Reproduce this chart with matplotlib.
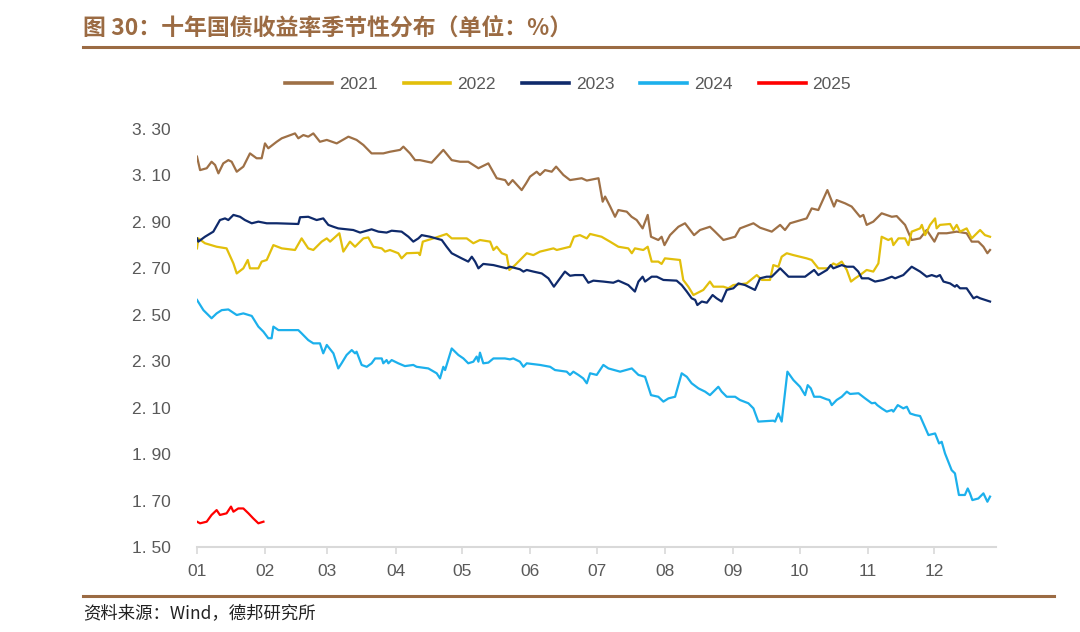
import matplotlib
matplotlib.use('Agg')
import matplotlib.pyplot as plt
from matplotlib.lines import Line2D

plt.rcParams['font.family'] = ['Liberation Sans', 'Noto Sans CJK SC', 'DejaVu Sans']

# Day of year (0 = Jan 1) and 10Y yield
day_2021 = [0, 1.4, 4.4, 6.6, 8.2, 9.7, 11.9, 14.2, 15.7, 18.0, 21.0, 24.0, 27.0, 29.3, 30.8,
            32.3, 36.1, 38.4, 44.4, 45.9, 48.2, 50.4, 52.7, 55.7, 58.8, 63.3, 68.6, 72.3, 75.4,
            79.1, 84.4, 87.4, 92.0, 93.5, 96.5, 98.8, 101.0, 106.3, 111.6, 115.4, 119.2, 122.9,
            127.5, 132.0, 135.8, 139.6, 141.1, 143.0, 147.1, 149.1, 150.9, 153.9, 155.4, 157.7,
            160.7, 162.7, 166.0, 169.0, 174.3, 176.6, 181.9, 183.8, 184.9, 187.2, 189.4, 190.9,
            194.7, 196.9, 199.2, 201.9, 204.2, 205.7, 209.0, 210.5, 211.8, 214.3, 218.1, 221.1,
            225.2, 227.9, 232.4, 234.7, 238.5, 243.8, 246.0, 252.1, 255.1, 260.4, 264.2, 266.4,
            268.7, 276.2, 278.5, 281.5, 285.6, 288.6, 289.8, 293.6, 296.6, 300.4, 301.9, 303.4,
            306.4, 310.2, 314.8, 317.0, 320.8, 323.8, 327.6, 330.6, 334.1, 335.9, 339.7, 344.2,
            348.7, 351.0, 354.0, 356.3, 358.1, 359.3]
y_2021 = [3.181, 3.123, 3.131, 3.159, 3.145, 3.109, 3.152, 3.166, 3.159, 3.116, 3.138, 3.195,
          3.174, 3.174, 3.238, 3.217, 3.245, 3.260, 3.281, 3.260, 3.274, 3.267, 3.281, 3.245,
          3.253, 3.238, 3.267, 3.253, 3.231, 3.195, 3.195, 3.202, 3.210, 3.224, 3.195, 3.166,
          3.166, 3.155, 3.210, 3.166, 3.159, 3.159, 3.131, 3.152, 3.088, 3.080, 3.059, 3.080,
          3.037, 3.066, 3.095, 3.116, 3.102, 3.123, 3.116, 3.138, 3.102, 3.080, 3.088, 3.078,
          3.088, 2.987, 3.009, 2.966, 2.922, 2.951, 2.944, 2.922, 2.908, 2.872, 2.930, 2.836,
          2.822, 2.836, 2.800, 2.843, 2.879, 2.894, 2.843, 2.865, 2.879, 2.858, 2.822, 2.836,
          2.872, 2.894, 2.875, 2.858, 2.887, 2.865, 2.894, 2.915, 2.958, 2.951, 3.037, 2.966,
          2.994, 2.980, 2.966, 2.922, 2.930, 2.887, 2.901, 2.937, 2.922, 2.925, 2.887, 2.822,
          2.829, 2.865, 2.815, 2.851, 2.851, 2.858, 2.851, 2.815, 2.815, 2.793, 2.765, 2.779]

day_2022 = [0, 0.6, 3.6, 8.9, 13.4, 16.5, 18.0, 21.0, 23.0, 24.0, 27.8, 29.3, 31.6, 34.6, 38.4,
            44.4, 47.4, 50.4, 52.7, 56.5, 58.8, 60.3, 64.5, 66.3, 69.3, 71.6, 75.4, 77.6, 79.9,
            83.7, 85.2, 87.4, 91.2, 92.7, 95.0, 100.3, 101.0, 102.3, 107.1, 113.1, 115.4, 122.2,
            125.2, 128.2, 132.8, 134.3, 135.8, 138.1, 140.3, 141.5, 144.1, 149.4, 152.4, 155.4,
            161.5, 163.0, 169.0, 170.8, 173.5, 176.6, 178.1, 183.3, 187.1, 190.9, 195.4, 197.0,
            198.4, 202.2, 204.2, 206.0, 209.0, 210.5, 212.0, 218.8, 220.3, 222.6, 224.9, 229.4,
            232.4, 234.0, 238.5, 240.7, 243.0, 249.0, 253.6, 255.9, 259.6, 261.1, 263.4, 264.9,
            267.2, 270.2, 276.2, 278.5, 281.5, 286.0, 288.3, 289.8, 292.1, 294.4, 296.3, 298.2,
            300.4, 303.4, 306.4, 308.7, 310.2, 313.2, 314.7, 315.5, 317.8, 320.8, 322.3, 323.8,
            327.6, 328.4, 329.9, 332.1, 334.4, 335.1, 336.6, 341.2, 342.7, 344.2, 345.7, 348.7,
            351.0, 354.8, 357.0, 359.3]
y_2022 = [2.786, 2.829, 2.808, 2.793, 2.786, 2.721, 2.678, 2.700, 2.736, 2.700, 2.700, 2.729,
          2.736, 2.800, 2.786, 2.779, 2.829, 2.786, 2.779, 2.815, 2.829, 2.815, 2.851, 2.772,
          2.815, 2.793, 2.829, 2.833, 2.793, 2.786, 2.772, 2.779, 2.765, 2.743, 2.765, 2.767,
          2.757, 2.815, 2.829, 2.848, 2.829, 2.829, 2.808, 2.822, 2.815, 2.779, 2.793, 2.765,
          2.757, 2.693, 2.714, 2.765, 2.757, 2.772, 2.786, 2.779, 2.793, 2.836, 2.843, 2.829,
          2.848, 2.836, 2.815, 2.793, 2.786, 2.765, 2.786, 2.779, 2.793, 2.729, 2.729, 2.719,
          2.743, 2.736, 2.650, 2.621, 2.585, 2.607, 2.643, 2.621, 2.621, 2.614, 2.628, 2.635,
          2.671, 2.650, 2.650, 2.714, 2.707, 2.750, 2.765, 2.757, 2.743, 2.736, 2.700, 2.700,
          2.721, 2.714, 2.729, 2.693, 2.643, 2.657, 2.671, 2.693, 2.686, 2.721, 2.836, 2.822,
          2.829, 2.800, 2.829, 2.829, 2.800, 2.858, 2.872, 2.887, 2.843, 2.887, 2.915, 2.872,
          2.887, 2.891, 2.865, 2.887, 2.858, 2.872, 2.829, 2.865, 2.843, 2.836]

day_2023 = [0, 0.6, 3.6, 7.4, 10.4, 12.7, 14.2, 16.5, 19.5, 21.7, 24.8, 27.8, 31.6, 36.1, 45.9,
            46.7, 50.4, 54.2, 57.2, 59.5, 61.8, 64.0, 67.8, 70.8, 73.9, 76.9, 79.1, 82.2, 85.9,
            88.2, 92.7, 95.8, 98.0, 100.3, 101.8, 105.6, 110.9, 113.1, 115.4, 119.9, 122.9,
            124.5, 126.0, 127.5, 129.7, 134.3, 137.3, 140.3, 141.8, 146.3, 147.9, 149.4, 152.4,
            156.2, 159.2, 161.7, 164.5, 166.7, 169.0, 171.3, 175.0, 177.3, 179.6, 184.1, 188.6,
            190.9, 195.4, 198.4, 200.0, 201.9, 203.0, 206.0, 208.3, 211.3, 217.3, 219.6, 221.9,
            224.1, 225.7, 226.7, 228.7, 231.0, 233.6, 235.4, 237.7, 240.0, 243.0, 245.3, 248.3,
            252.8, 255.1, 258.1, 260.4, 264.2, 268.0, 275.5, 279.6, 281.5, 285.4, 287.1, 288.3,
            292.1, 294.4, 297.4, 299.6, 301.2, 304.2, 307.2, 311.0, 314.8, 316.3, 320.0, 323.8,
            327.6, 330.6, 332.9, 335.1, 336.6, 338.2, 341.2, 343.4, 344.2, 345.7, 348.7, 350.3,
            351.8, 353.3, 354.8, 357.0, 359.3]
y_2023 = [2.829, 2.815, 2.836, 2.858, 2.908, 2.915, 2.908, 2.930, 2.922, 2.908, 2.894, 2.901,
          2.894, 2.894, 2.891, 2.920, 2.922, 2.908, 2.915, 2.887, 2.879, 2.872, 2.868, 2.865,
          2.854, 2.862, 2.868, 2.858, 2.854, 2.862, 2.858, 2.836, 2.815, 2.829, 2.843, 2.836,
          2.822, 2.793, 2.765, 2.743, 2.729, 2.750, 2.729, 2.700, 2.719, 2.714, 2.707, 2.700,
          2.707, 2.696, 2.686, 2.693, 2.686, 2.678, 2.657, 2.621, 2.657, 2.686, 2.668, 2.671,
          2.671, 2.638, 2.647, 2.643, 2.638, 2.647, 2.628, 2.600, 2.643, 2.664, 2.643, 2.664,
          2.664, 2.650, 2.647, 2.628, 2.600, 2.571, 2.564, 2.542, 2.557, 2.552, 2.585, 2.571,
          2.557, 2.607, 2.614, 2.635, 2.628, 2.607, 2.657, 2.664, 2.664, 2.700, 2.664, 2.664,
          2.693, 2.671, 2.693, 2.714, 2.700, 2.714, 2.707, 2.707, 2.686, 2.657, 2.657, 2.643,
          2.650, 2.664, 2.657, 2.671, 2.707, 2.686, 2.664, 2.671, 2.664, 2.671, 2.643, 2.635,
          2.621, 2.628, 2.614, 2.614, 2.592, 2.571, 2.578, 2.571, 2.564, 2.557]

day_2024 = [0, 2.9, 6.6, 8.9, 11.2, 14.2, 18.0, 21.0, 24.8, 27.8, 30.1, 32.3, 33.8, 34.6, 36.9,
            45.9, 47.4, 50.4, 52.7, 55.7, 57.2, 58.8, 61.8, 64.0, 65.5, 67.8, 70.1, 71.6, 72.3,
            74.6, 76.9, 79.1, 80.7, 83.7, 84.4, 85.9, 86.7, 88.2, 91.2, 94.2, 98.0, 99.5, 104.8,
            108.6, 110.1, 111.6, 112.4, 115.4, 118.4, 120.7, 122.9, 125.2, 126.7, 127.5, 128.2,
            129.7, 132.0, 134.3, 139.5, 141.8, 143.3, 146.3, 147.9, 149.4, 155.4, 160.0, 162.2,
            167.5, 169.0, 170.5, 172.8, 175.0, 176.6, 178.1, 181.1, 184.1, 186.4, 191.7, 197.0,
            200.0, 203.0, 205.7, 209.0, 211.3, 213.6, 216.6, 219.6, 221.9, 224.1, 227.2, 230.2,
            232.4, 234.7, 236.2, 237.7, 240.0, 243.8, 246.0, 249.8, 252.1, 254.3, 261.1, 261.9,
            263.4, 264.9, 267.5, 270.2, 273.2, 275.5, 276.7, 278.1, 279.6, 282.3, 285.3, 286.5,
            287.6, 289.8, 292.1, 294.4, 295.9, 299.7, 302.7, 305.7, 307.2, 308.2, 310.2, 312.5,
            314.8, 315.5, 317.5, 320.0, 321.6, 323.1, 325.4, 327.6, 329.1, 331.4, 334.4, 336.2,
            337.4, 338.9, 341.9, 343.4, 345.2, 347.9, 349.2, 350.2, 351.3, 354.0, 356.3, 358.1,
            359.3]
y_2024 = [2.564, 2.520, 2.485, 2.506, 2.520, 2.523, 2.499, 2.506, 2.495, 2.449, 2.427, 2.399,
          2.399, 2.449, 2.434, 2.434, 2.420, 2.391, 2.377, 2.377, 2.334, 2.370, 2.334, 2.269,
          2.291, 2.327, 2.348, 2.334, 2.341, 2.284, 2.276, 2.291, 2.312, 2.312, 2.291, 2.305,
          2.291, 2.305, 2.291, 2.279, 2.284, 2.276, 2.269, 2.248, 2.226, 2.276, 2.262, 2.355,
          2.327, 2.312, 2.291, 2.298, 2.320, 2.298, 2.337, 2.291, 2.294, 2.312, 2.312, 2.308,
          2.312, 2.298, 2.276, 2.291, 2.284, 2.276, 2.262, 2.255, 2.241, 2.255, 2.241, 2.226,
          2.205, 2.248, 2.241, 2.284, 2.269, 2.255, 2.269, 2.241, 2.233, 2.154, 2.147, 2.126,
          2.140, 2.147, 2.248, 2.233, 2.205, 2.183, 2.169, 2.154, 2.176, 2.190, 2.169, 2.147,
          2.147, 2.133, 2.119, 2.097, 2.040, 2.044, 2.040, 2.075, 2.040, 2.255, 2.219, 2.190,
          2.154, 2.197, 2.183, 2.147, 2.147, 2.136, 2.133, 2.111, 2.133, 2.147, 2.169, 2.159,
          2.162, 2.140, 2.119, 2.121, 2.111, 2.097, 2.083, 2.090, 2.083, 2.111, 2.097, 2.104,
          2.075, 2.068, 2.064, 2.032, 1.982, 1.989, 1.946, 1.953, 1.903, 1.831, 1.817, 1.724,
          1.724, 1.752, 1.731, 1.702, 1.709, 1.731, 1.695, 1.717]

day_2025 = [0, 1.4, 4.4, 6.6, 8.9, 10.4, 13.4, 15.4, 16.5, 18.7, 21.0, 23.3, 25.5, 27.8, 30.1]
y_2025 = [1.609, 1.602, 1.609, 1.638, 1.659, 1.638, 1.645, 1.674, 1.652, 1.666, 1.666, 1.645,
          1.623, 1.602, 1.609]

years = ['2021', '2022', '2023', '2024', '2025']
colors = ['#9E7046', '#E2BF0B', '#0F2A6B', '#1CB0EC', '#FF0000']

month_starts = [0, 31, 59, 90, 120, 151, 181, 212, 243, 273, 304, 334]
month_labels = ['01', '02', '03', '04', '05', '06', '07', '08', '09', '10', '11', '12']
y_ticks = [1.5, 1.7, 1.9, 2.1, 2.3, 2.5, 2.7, 2.9, 3.1, 3.3]

fig = plt.figure(figsize=(10.8, 6.32), dpi=100)
ax = fig.add_axes([197 / 1080, 1 - 547 / 632, (996 - 197) / 1080, (547 - 129) / 632])

series = [(day_2021, y_2021), (day_2022, y_2022), (day_2023, y_2023),
          (day_2024, y_2024), (day_2025, y_2025)]
for (d, v), yr, c in zip(series, years, colors):
    ax.plot(d, v, color=c, lw=1.6, label=yr, solid_joinstyle='round')

ax.set_xlim(0, 362)
ax.set_ylim(1.5, 3.3)
ax.set_yticks(y_ticks)
ax.set_yticklabels([('%.2f' % t).replace('.', '. ') for t in y_ticks])
ax.set_xticks(month_starts)
ax.set_xticklabels(month_labels)

for s in ['top', 'right', 'left']:
    ax.spines[s].set_visible(False)
ax.spines['bottom'].set_color('#D9D9D9')
ax.spines['bottom'].set_linewidth(1.5)
ax.tick_params(axis='x', colors='#595959', labelsize=12.5, length=5, width=1.2,
               color='#D9D9D9', pad=7)
ax.tick_params(axis='y', colors='#595959', labelsize=12.5, length=0, pad=19)

handles = [Line2D([], [], color=c, lw=2.6) for c in colors]
fig.legend(handles, years, loc='center', bbox_to_anchor=(0.526, 0.867), ncol=5,
           frameon=False, fontsize=12.5, handlelength=2.7, handletextpad=0.4,
           columnspacing=1.5, labelcolor='#595959')

fig.text(83 / 1080, 1 - 28 / 632, '图 30：十年国债收益率季节性分布（单位：%）',
         fontsize=16.5, fontweight='bold', color='#9B6B43', va='center',
         family=['Noto Sans CJK SC', 'DejaVu Sans'])
fig.add_artist(Line2D([83 / 1080, 1.0], [1 - 47 / 632, 1 - 47 / 632],
                      color='#9B6B43', lw=2.2))
fig.add_artist(Line2D([83 / 1080, 1054 / 1080], [1 - 596 / 632, 1 - 596 / 632],
                      color='#9B6B43', lw=2.2))
fig.text(83 / 1080, 1 - 613 / 632, '资料来源：Wind，德邦研究所', fontsize=12.5,
         color='#222222', va='center', family=['Noto Sans CJK SC', 'DejaVu Sans'])

fig.savefig('out.png', dpi=100)
